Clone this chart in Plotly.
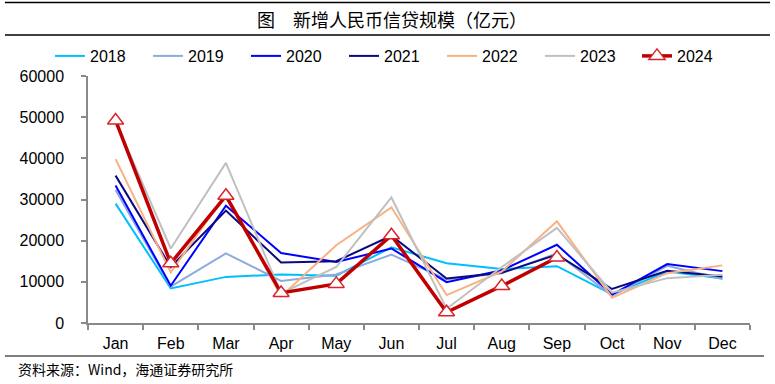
import plotly.graph_objects as go

months = ["Jan", "Feb", "Mar", "Apr", "May", "Jun", "Jul", "Aug", "Sep", "Oct", "Nov", "Dec"]
y2018 = [29000, 8393, 11200, 11800, 11500, 18400, 14500, 13100, 13800, 6970, 12500, 10800]
y2019 = [32300, 8858, 16900, 10200, 11800, 16600, 10600, 12100, 16900, 6613, 13900, 10700]
y2020 = [33400, 9057, 28500, 17000, 14800, 18100, 9927, 12800, 19000, 6898, 14300, 12600]
y2021 = [35800, 13600, 27300, 14700, 15000, 21200, 10800, 12200, 16600, 8262, 12700, 11300]
y2022 = [39800, 12300, 31300, 6454, 18900, 28100, 6790, 12500, 24700, 6152, 12100, 14000]
y2023 = [49000, 18100, 38900, 7188, 13600, 30500, 3459, 13600, 23100, 7384, 10900, 11700]
y2024 = [49200, 14500, 30900, 7300, 9500, 21300, 2600, 9000, 15900]
yticks = [0, 10000, 20000, 30000, 40000, 50000, 60000]

W, H = 775, 384
ML, MR, MT, MB = 88, 25, 76, 61
PW = W - ML - MR
PH = H - MT - MB

def px(x):
    return (x - ML) / PW

def py(y):
    return (H - MB - y) / PH

FONT = "Liberation Sans, Arial, sans-serif"
CJK = "Noto Sans CJK SC"

fig = go.Figure()
series = [
    ("2018", y2018, "#00BFFF", 2),
    ("2019", y2019, "#8EAADB", 2),
    ("2020", y2020, "#0000FF", 2),
    ("2021", y2021, "#0A0A80", 2),
    ("2022", y2022, "#F8B183", 2),
    ("2023", y2023, "#C0C0C0", 2),
]
for name, ys, col, w in series:
    fig.add_trace(go.Scatter(x=months[:len(ys)], y=ys, name=name, mode="lines",
                             line=dict(color=col, width=w), legend="legend"))
fig.add_trace(go.Scatter(x=months[:len(y2024)], y=y2024, name="2024", mode="lines+markers",
                         line=dict(color="#C00000", width=3.5), legend="legend2",
                         marker=dict(symbol="triangle-up", size=14, color="white",
                                     line=dict(color="#D9252A", width=1.5))))

legend_common = dict(orientation="h", xref="container", yref="container",
                     y=1 - 39 / H, xanchor="left", yanchor="top",
                     font=dict(size=16, family=FONT), entrywidth=53, entrywidthmode="pixels",
                     itemwidth=30, tracegroupgap=0, bgcolor="rgba(0,0,0,0)")

fig.update_layout(
    width=W, height=H,
    margin=dict(l=ML, r=MR, t=MT, b=MB, autoexpand=False),
    paper_bgcolor="white", plot_bgcolor="white",
    font=dict(family=FONT, size=16, color="black"),
    showlegend=True,
    legend=dict(x=50 / W, **legend_common),
    legend2=dict(x=637 / W, **legend_common),
    xaxis=dict(type="category", categoryorder="array", categoryarray=months,
               range=[-0.5, 11.5], showline=True, linecolor="#898989", linewidth=1.5,
               ticks="outside", ticklen=5, tickcolor="#898989", tickwidth=1.5,
               tickson="boundaries", showgrid=False, zeroline=False, ticklabelstandoff=5,
               tickfont=dict(size=16, family=FONT)),
    yaxis=dict(range=[0, 60000], tickvals=yticks, ticktext=[str(v) for v in yticks],
               showline=True, linecolor="#898989", linewidth=1.5,
               ticks="outside", ticklen=5, tickcolor="#898989", tickwidth=1.5,
               showgrid=False, zeroline=False, ticklabelstandoff=14,
               tickfont=dict(size=16, family=FONT)),
    shapes=[
        dict(type="line", xref="paper", yref="paper", x0=px(5), x1=px(770), y0=py(2.5), y1=py(2.5),
             line=dict(color="black", width=1.5)),
        dict(type="line", xref="paper", yref="paper", x0=px(5), x1=px(770), y0=py(35), y1=py(35),
             line=dict(color="black", width=1.5)),
        dict(type="line", xref="paper", yref="paper", x0=px(5), x1=px(764), y0=py(356), y1=py(356),
             line=dict(color="black", width=1)),
    ],
    annotations=[
        dict(text="图　新增人民币信贷规模（亿元）", xref="paper", yref="paper", x=px(392), y=py(18.5),
             xanchor="center", yanchor="middle", showarrow=False,
             font=dict(family=CJK, size=18, color="black")),
        dict(text="资料来源：Wind，海通证券研究所", xref="paper", yref="paper", x=px(16), y=py(369),
             xanchor="left", yanchor="middle", showarrow=False,
             font=dict(family=CJK, size=14, color="black")),
    ],
)

fig.write_html("out.html", config={"displayModeBar": False},
               post_script="document.body.style.margin='0';document.body.style.padding='0';")
